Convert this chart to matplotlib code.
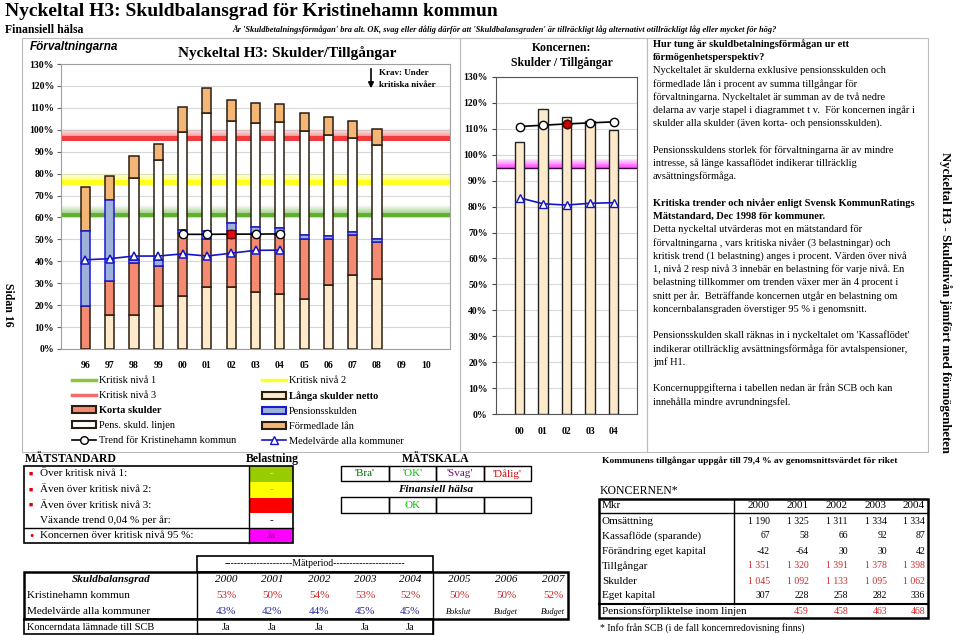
import matplotlib.pyplot as plt
import numpy as np
from matplotlib.patches import Rectangle, Patch
from matplotlib.lines import Line2D

plt.rcParams['font.family'] = ['Liberation Serif', 'DejaVu Sans']

# Förvaltningarna: staplarnas delar i procent av summa tillgångar (96-08)
ar_forv = ['96', '97', '98', '99', '00', '01', '02', '03', '04', '05', '06', '07', '08', '09', '10']
langa_skulder = [0.0, 15.6, 15.6, 19.4, 24.4, 28.2, 28.2, 26.0, 25.2, 22.8, 29.0, 33.7, 32.0]
korta_skulder = [19.5, 15.4, 23.6, 18.3, 28.6, 21.8, 25.8, 27.0, 26.8, 27.2, 21.0, 18.3, 17.0]
pensionsskuld = [34.3, 36.9, 1.5, 3.0, 1.5, 4.0, 3.4, 2.6, 3.4, 1.9, 1.5, 1.5, 1.1]
pens_linjen = [0.0, 0.0, 37.1, 45.3, 44.4, 53.5, 46.5, 47.7, 48.2, 47.4, 46.1, 42.8, 42.8]
formedlade_lan = [20.0, 10.8, 10.3, 7.7, 11.5, 11.5, 9.8, 9.1, 8.2, 8.4, 8.2, 7.6, 7.5]
medel_kommuner = [40.7, 41.2, 42.4, 42.4, 43.4, 42.4, 43.7, 45.0, 45.1]
trend_kommun = [52.3, 52.3, 52.4, 52.4, 52.5]  # 00-04
kritiska_nivaer = [60, 75, 95]

# Koncernen
ar_koncern = ['00', '01', '02', '03', '04']
koncern_skuld = [105.1, 117.5, 114.4, 113.1, 109.4]
koncern_trend = [110.9, 111.4, 111.9, 112.3, 112.7]
koncern_medel = [83.4, 81.1, 80.6, 81.3, 81.5]
koncern_niva = 95

# Tabeller
matstandard = ['Över kritisk nivå 1:', 'Även över kritisk nivå 2:', 'Även över kritisk nivå 3:',
               'Växande trend 0,04 % per år:', 'Koncernen över kritisk nivå 95 %:']
belastning = ['-', '-', '-', '-', 'Ja']
matskala = ["'Bra'", "'OK'", "'Svag'", "'Dålig'"]
halsa = ['', 'OK', '', '']
tab_ar = ['2000', '2001', '2002', '2003', '2004', '2005', '2006', '2007']
kristinehamn_pct = ['53%', '50%', '54%', '53%', '52%', '50%', '50%', '52%']
medel_pct = ['43%', '42%', '44%', '45%', '45%']
prognos = ['Bokslut', 'Budget', 'Budget']
koncerndata = ['Ja', 'Ja', 'Ja', 'Ja', 'Ja']

koncern_ar = ['2000', '2001', '2002', '2003', '2004']
koncern_rader = ['Omsättning', 'Kassaflöde (sparande)', 'Förändring eget kapital',
                 'Tillgångar', 'Skulder', 'Eget kapital']
koncern_varden = [['1 190', '1 325', '1 311', '1 334', '1 334'],
                  ['67', '58', '66', '92', '87'],
                  ['-42', '-64', '30', '30', '42'],
                  ['1 351', '1 320', '1 391', '1 378', '1 398'],
                  ['1 045', '1 092', '1 133', '1 095', '1 062'],
                  ['307', '228', '258', '282', '336']]
pension_inom = ['', '459', '458', '463', '468']

textrader = [
    ('Hur tung är skuldbetalningsförmågan ur ett', True),
    ('förmögenhetsperspektiv?', True),
    ('Nyckeltalet är skulderna exklusive pensionsskulden och', False),
    ('förmedlade lån i procent av summa tillgångar för', False),
    ('förvaltningarna. Nyckeltalet är summan av de två nedre', False),
    ('delarna av varje stapel i diagrammet t v.  För koncernen ingår i', False),
    ('skulder alla skulder (även korta- och pensionsskulden).', False),
    ('', False),
    ('Pensionsskuldens storlek för förvaltningarna är av mindre', False),
    ('intresse, så länge kassaflödet indikerar tillräcklig', False),
    ('avsättningsförmåga.', False),
    ('', False),
    ('Kritiska trender och nivåer enligt Svensk KommunRatings', True),
    ('Mätstandard, Dec 1998 för kommuner.', True),
    ('Detta nyckeltal utvärderas mot en mätstandard för', False),
    ('förvaltningarna , vars kritiska nivåer (3 belastningar) och', False),
    ('kritisk trend (1 belastning) anges i procent. Värden över nivå', False),
    ('1, nivå 2 resp nivå 3 innebär en belastning för varje nivå. En', False),
    ('belastning tillkommer om trenden växer mer än 4 procent i', False),
    ('snitt per år.  Beträffande koncernen utgår en belastning om', False),
    ('koncernbalansgraden överstiger 95 % i genomsnitt.', False),
    ('', False),
    ("Pensionsskulden skall räknas in i nyckeltalet om 'Kassaflödet'", False),
    ('indikerar otillräcklig avsättningsförmåga för avtalspensioner,', False),
    ('jmf H1.', False),
    ('', False),
    ('Koncernuppgifterna i tabellen nedan är från SCB och kan', False),
    ('innehålla mindre avrundningsfel.', False),
]

W, H = 960, 635
fig = plt.figure(figsize=(W / 100, H / 100), dpi=100)


def px_axes(x0, y0, x1, y1, **kw):
    return fig.add_axes([x0 / W, 1 - y1 / H, (x1 - x0) / W, (y1 - y0) / H], **kw)


# overlay i pixelkoordinater för texter och tabeller
fg = px_axes(0, 0, W, H, zorder=10)
fg.set_xlim(0, W)
fg.set_ylim(H, 0)
fg.axis('off')

# ---- vänster diagram ----
ax = px_axes(61, 64, 450, 349, zorder=2)
x = np.arange(len(langa_skulder))
botten = np.zeros(len(x))
kant = '#2B1D10'
lager = [(langa_skulder, '#FDEACB', kant, 3), (korta_skulder, '#F58A73', kant, 3),
         (pensionsskuld, '#9DB1DA', '#1A1AD0', 4), (pens_linjen, 'white', kant, 3),
         (formedlade_lan, '#F3B677', kant, 3)]
for varden, fc, ec, z in lager:
    v = np.array(varden)
    m = v > 0
    ax.bar(x[m], v[m], 0.38, bottom=botten[m], color=fc, edgecolor=ec, linewidth=1.1, zorder=z)
    botten += v

niva_farger = ['#62B032', '#FFFF20', '#F03C3C']
for niva, farg in zip(kritiska_nivaer, niva_farger):
    ax.axhspan(niva, niva + 2.2, color=farg, lw=0, zorder=1)
    steg = np.linspace(niva + 2.2, niva + 5.5, 12)
    for i in range(11):
        ax.axhspan(steg[i], steg[i + 1], color=farg, alpha=0.5 * (1 - i / 11), lw=0, zorder=1)

ax.plot(x[:len(medel_kommuner)], medel_kommuner, color='#1414C8', lw=1.2, marker='^', ms=5.5,
        mfc='white', mec='#1414C8', mew=1.1, zorder=6)
xt = x[4:4 + len(trend_kommun)]
ax.plot(xt, trend_kommun, color='black', lw=1.2, marker='o', ms=6, mfc='white', mec='black', zorder=6)
ax.plot(xt[2], trend_kommun[2], marker='s', ms=5.5, mfc='#E01010', mec='#600000', zorder=7)

ax.set_xlim(-1, 15)
ax.set_ylim(0, 130)
ax.set_xticks(np.arange(len(ar_forv)))
ax.set_xticklabels(ar_forv)
ax.set_yticks(range(0, 131, 10))
ax.set_yticklabels([f'{v}%' for v in range(0, 131, 10)])
ax.tick_params(axis='x', length=0, pad=9, labelsize=7)
ax.tick_params(axis='y', length=3, pad=2, labelsize=7, color='#666666')
for lbl in ax.get_xticklabels() + ax.get_yticklabels():
    lbl.set_fontweight('bold')
ax.yaxis.grid(True, color='#D8D8D8', lw=0.8)
ax.set_axisbelow(True)
for s in ax.spines.values():
    s.set_color('#A0A0A0')

# ---- koncerndiagram ----
ax2 = px_axes(496, 77, 637, 414, zorder=2)
xk = np.arange(len(koncern_skuld))
ax2.bar(xk, koncern_skuld, 0.4, color='#FDEACB', edgecolor='#222222', linewidth=1.0, zorder=3)
ax2.axhline(koncern_niva, color='#3A003A', lw=1, zorder=2)
steg = np.linspace(koncern_niva, koncern_niva + 3.5, 12)
for i in range(11):
    ax2.axhspan(steg[i], steg[i + 1], color='#FF00FF', alpha=0.7 * (1 - i / 11), lw=0, zorder=1)
ax2.plot(xk, koncern_medel, color='#1414C8', lw=1.2, marker='^', ms=5.5, mfc='white', mec='#1414C8', zorder=6)
ax2.plot(xk, koncern_trend, color='black', lw=1.2, marker='o', ms=6, mfc='white', mec='black', zorder=6)
ax2.plot(xk[2], koncern_trend[2], marker='o', ms=6, mfc='#C80000', mec='#500000', zorder=7)
ax2.set_xlim(-1, 5)
ax2.set_ylim(0, 130)
ax2.set_xticks(xk)
ax2.set_xticklabels(ar_koncern)
ax2.set_yticks(range(0, 131, 10))
ax2.set_yticklabels([f'{v}%' for v in range(0, 131, 10)])
ax2.tick_params(axis='x', length=0, pad=9, labelsize=7)
ax2.tick_params(axis='y', length=3, pad=3, labelsize=7, color='#444444')
for lbl in ax2.get_xticklabels() + ax2.get_yticklabels():
    lbl.set_fontweight('bold')
ax2.yaxis.grid(True, color='#D8D8D8', lw=0.8)
ax2.set_axisbelow(True)
for s in ax2.spines.values():
    s.set_color('#555555')

# ---- ramar ----
ram = dict(fill=False, ec='#BBBBBB', lw=0.8)
fg.add_patch(Rectangle((22, 38), 438, 414, **ram))
fg.add_patch(Rectangle((460, 38), 187, 414, **ram))
fg.add_patch(Rectangle((647, 38), 281, 414, **ram))

# ---- rubriker ----
fg.text(5, 12, 'Nyckeltal H3: Skuldbalansgrad för Kristinehamn kommun', fontsize=14,
        fontweight='bold', va='center')
fg.text(5, 30, 'Finansiell hälsa', fontsize=8.5, fontweight='bold', va='center')
fg.text(232, 30, "Är 'Skuldbetalningsförmågan' bra alt. OK, svag eller dålig därför att "
        "'Skuldbalansgraden' är tillräckligt låg alternativt otillräckligt låg eller mycket för hög?",
        fontsize=6.0, fontweight='bold', fontstyle='italic', va='center')
fg.text(30, 47, 'Förvaltningarna', family=['Liberation Sans', 'DejaVu Sans'], fontsize=8.5,
        fontweight='bold', fontstyle='italic', va='center')
fg.text(287, 53, 'Nyckeltal H3: Skulder/Tillgångar', fontsize=11, fontweight='bold',
        ha='center', va='center')
fg.annotate('', xy=(371, 91), xytext=(371, 66),
            arrowprops=dict(arrowstyle='-|>', color='black', lw=1.2, mutation_scale=8))
fg.text(379, 73, 'Krav: Under', fontsize=6.5, fontweight='bold', va='center')
fg.text(379, 85, 'kritiska nivåer', fontsize=6.5, fontweight='bold', va='center')
fg.text(562, 48, 'Koncernen:', fontsize=8.5, fontweight='bold', ha='center', va='center')
fg.text(562, 63, 'Skulder / Tillgångar', fontsize=8.5, fontweight='bold', ha='center', va='center')

# ---- förklaringar ----
h1 = [Line2D([], [], color='#8CC63F', lw=2.5), Line2D([], [], color='#F26D6D', lw=2.5),
      Patch(fc='#F58A73', ec=kant, lw=1.5), Patch(fc='white', ec=kant, lw=1.5),
      Line2D([], [], color='black', lw=1.2, marker='o', ms=5.5, mfc='white', mec='black')]
l1 = ['Kritisk nivå 1', 'Kritisk nivå 3', 'Korta skulder', 'Pens. skuld. linjen',
      'Trend för Kristinehamn kommun']
h2 = [Line2D([], [], color='#FFFF30', lw=2.5), Patch(fc='#FDEACB', ec=kant, lw=1.5),
      Patch(fc='#9DB1DA', ec='#1A1AD0', lw=1.5), Patch(fc='#F3B677', ec=kant, lw=1.5),
      Line2D([], [], color='#1414C8', lw=1.2, marker='^', ms=5.5, mfc='white', mec='#1414C8')]
l2 = ['Kritisk nivå 2', 'Långa skulder netto', 'Pensionsskulden', 'Förmedlade lån',
      'Medelvärde alla kommuner']
leg_kw = dict(loc='upper left', bbox_transform=fg.transData, frameon=False, fontsize=7.5,
              handlelength=2.3, handletextpad=0.3, labelspacing=0.55, borderpad=0, borderaxespad=0)
leg1 = fg.legend(h1, l1, bbox_to_anchor=(72, 376), **leg_kw)
fg.add_artist(leg1)
leg2 = fg.legend(h2, l2, bbox_to_anchor=(262, 376), **leg_kw)
leg1.get_texts()[2].set_fontweight('bold')
leg2.get_texts()[1].set_fontweight('bold')

# ---- textpanel ----
for i, (rad, fet) in enumerate(textrader):
    fg.text(653, 44 + i * 13.25, rad, fontsize=7.5, fontweight='bold' if fet else 'normal', va='center')

fg.text(8, 305, 'Sidan 16', fontsize=8.5, fontweight='bold', rotation=-90, ha='center', va='center')
fg.text(945, 302, 'Nyckeltal H3 - Skuldnivån jämfört med förmögenheten', fontsize=9.2,
        fontweight='bold', rotation=-90, ha='center', va='center')

# ---- mätstandard ----
fg.text(25, 459, 'MÄTSTANDARD', fontsize=8.5, fontweight='bold', va='center')
fg.text(272, 459, 'Belastning', fontsize=8.5, fontweight='bold', ha='center', va='center')
rad_y = [466, 482, 498, 513, 528, 543]
cell_farg = ['#99CC00', '#FFFF00', '#FF0000', 'white', '#FF00FF']
text_farg = ['#D8E8B0', '#B0B000', '#C00000', 'black', '#800080']
for i, (lbl, bel) in enumerate(zip(matstandard, belastning)):
    y0, y1 = rad_y[i], rad_y[i + 1]
    fg.add_patch(Rectangle((249, y0), 44, y1 - y0, fc=cell_farg[i], ec='none'))
    fg.text(271, (y0 + y1) / 2, bel, fontsize=8, color=text_farg[i], ha='center', va='center')
    fg.text(40, (y0 + y1) / 2, lbl, fontsize=8, va='center')
    if i < 3:
        fg.text(29, (y0 + y1) / 2, '■', fontsize=5, color='#E00000', va='center')
    elif i == 4:
        fg.text(29, (y0 + y1) / 2, '●', fontsize=5, color='#E00000', va='center')
fg.add_patch(Rectangle((24, 466), 269, 77, fill=False, ec='black', lw=1.2))
fg.plot([249, 249], [466, 543], color='black', lw=1)
fg.plot([24, 293], [528, 528], color='black', lw=1)

# ---- mätskala ----
fg.text(436, 459, 'MÄTSKALA', fontsize=8.5, fontweight='bold', ha='center', va='center')
fg.text(436, 489, 'Finansiell hälsa', fontsize=8, fontweight='bold', fontstyle='italic',
        ha='center', va='center')
skala_farg = ['#007000', '#00C000', '#800080', '#E00000']
cw = (531 - 341) / 4
for j in range(4):
    fg.add_patch(Rectangle((341 + j * cw, 466), cw, 15, fill=False, ec='black', lw=1))
    fg.add_patch(Rectangle((341 + j * cw, 497), cw, 16, fill=False, ec='black', lw=1))
    fg.text(341 + (j + 0.5) * cw, 474, matskala[j], fontsize=8, color=skala_farg[j], ha='center', va='center')
    fg.text(341 + (j + 0.5) * cw, 505.5, halsa[j], fontsize=8, color='#00C000', ha='center', va='center')

# ---- skuldbalansgrad-tabell ----
fg.add_patch(Rectangle((197, 556), 236, 16, fill=False, ec='black', lw=1.2))
fg.text(315, 564, '---------------------Mätperiod----------------------', fontsize=7,
        ha='center', va='center')
fg.add_patch(Rectangle((24, 572), 544, 47, fill=False, ec='black', lw=1.8))
fg.add_patch(Rectangle((24, 619), 409, 15, fill=False, ec='black', lw=1.2))
fg.plot([197, 197], [572, 634], color='black', lw=1)
fg.plot([433, 433], [572, 634], color='black', lw=1)
kol_x = [226, 272, 319, 365, 410, 459, 506, 553]
fg.text(111, 580, 'Skuldbalansgrad', fontsize=8, fontweight='bold', fontstyle='italic',
        ha='center', va='center')
fg.text(27, 595.5, 'Kristinehamn kommun', fontsize=8, va='center')
fg.text(27, 611, 'Medelvärde alla kommuner', fontsize=8, va='center')
fg.text(27, 627, 'Koncerndata lämnade till SCB', fontsize=7.5, va='center')
for j, cx in enumerate(kol_x):
    fg.text(cx, 580, tab_ar[j], fontsize=8, fontstyle='italic', ha='center', va='center')
    fg.text(cx, 595.5, kristinehamn_pct[j], fontsize=8, color='#CC2A2A', ha='center', va='center')
    if j < len(medel_pct):
        fg.text(cx, 611, medel_pct[j], fontsize=8, color='#2A2A9A', ha='center', va='center')
        fg.text(cx, 627, koncerndata[j], fontsize=7.5, ha='center', va='center')
    else:
        fg.text(cx, 612, prognos[j - len(medel_pct)], fontsize=6, fontstyle='italic',
                ha='center', va='center')

# ---- koncerntabell ----
fg.text(602, 461, 'Kommunens tillgångar uppgår till 79,4 % av genomsnittsvärdet för riket',
        fontsize=6.8, fontweight='bold', va='center')
fg.text(600, 491, 'KONCERNEN*', fontsize=8.5, va='center')
fg.add_patch(Rectangle((599, 499), 329, 119, fill=False, ec='black', lw=1.8))
fg.plot([599, 928], [513, 513], color='black', lw=1)
fg.plot([599, 928], [604, 604], color='black', lw=1.5)
fg.plot([734, 734], [499, 604], color='black', lw=1)
hoger_x = [770, 809, 848, 887, 925]
fg.text(602, 506, 'Mkr', fontsize=8, va='center')
for j, hx in enumerate(hoger_x):
    fg.text(hx, 506, koncern_ar[j], fontsize=8, ha='right', va='center')
for i, (namn, rad) in enumerate(zip(koncern_rader, koncern_varden)):
    y = 521 + i * 15
    farg = '#CC2A2A' if namn in ('Tillgångar', 'Skulder') else 'black'
    fg.text(602, y, namn, fontsize=8, va='center')
    for hx, v in zip(hoger_x, rad):
        fg.text(hx, y, v, fontsize=7, color=farg, ha='right', va='center')
fg.text(602, 611, 'Pensionsförpliktelse inom linjen', fontsize=8, va='center')
for hx, v in zip(hoger_x, pension_inom):
    fg.text(hx, 611, v, fontsize=7, color='#CC2A2A', ha='right', va='center')
fg.text(600, 628, '* Info från SCB (i de fall koncernredovisning finns)', fontsize=7, va='center')

fig.savefig('out.png', dpi=100)
